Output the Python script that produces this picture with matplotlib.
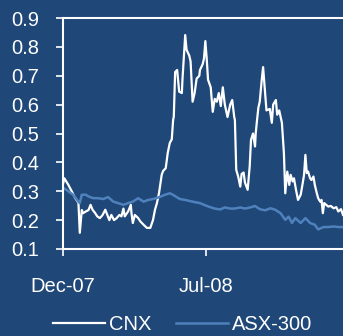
import pandas as pd
import matplotlib.pyplot as plt
import matplotlib.dates as mdates

plt.rcParams['font.family'] = ['Liberation Sans', 'DejaVu Sans']

# days after 1 Dec 2007, and the value read for that day
start = pd.Timestamp('2007-12-01')

cnx_days = [0, 2, 8, 13, 18, 23, 25, 28, 30, 34, 38, 41, 44, 48, 51, 55, 59, 63, 65,
            69, 72, 76, 80, 84, 87, 90, 92, 97, 101, 102, 104, 107, 112, 115, 120,
            125, 130, 134, 137, 140, 143, 147, 149, 153, 156, 159, 162, 163, 164,
            165, 167, 170, 173, 177, 178, 182, 184, 188, 190, 193, 196, 199, 203,
            204, 208, 210, 212, 214, 216, 220, 223, 226, 229, 232, 235, 238, 241,
            245, 249, 252, 255, 256, 258, 261, 264, 266, 269, 271, 275, 278, 280,
            283, 286, 287, 289, 291, 293, 296, 298, 301, 303, 308, 311, 313, 317,
            319, 322, 326, 327, 329, 331, 334, 337, 339, 342, 344, 347, 350, 354,
            357, 359, 361, 363, 365, 368, 370, 373, 375, 378, 380, 383, 385, 387,
            389, 392, 395, 399, 403, 407, 410, 414, 417]
cnx_vals = [0.325, 0.345, 0.322, 0.30, 0.277, 0.26, 0.156, 0.235, 0.224, 0.23, 0.235,
            0.253, 0.236, 0.224, 0.213, 0.207, 0.218, 0.236, 0.224, 0.20, 0.218, 0.20,
            0.207, 0.218, 0.213, 0.24, 0.213, 0.23, 0.253, 0.224, 0.19, 0.218, 0.207,
            0.196, 0.184, 0.173, 0.173, 0.20, 0.236, 0.26, 0.294, 0.357, 0.37, 0.38,
            0.433, 0.467, 0.48, 0.512, 0.547, 0.558, 0.713, 0.72, 0.645, 0.64, 0.69,
            0.841, 0.79, 0.77, 0.75, 0.61, 0.64, 0.69, 0.70, 0.72, 0.74, 0.76, 0.82,
            0.76, 0.686, 0.66, 0.575, 0.62, 0.61, 0.64, 0.595, 0.66, 0.60, 0.557,
            0.60, 0.616, 0.557, 0.547, 0.374, 0.35, 0.316, 0.36, 0.365, 0.33, 0.305,
            0.385, 0.478, 0.50, 0.455, 0.50, 0.547, 0.59, 0.61, 0.686, 0.73, 0.64,
            0.58, 0.585, 0.537, 0.60, 0.616, 0.565, 0.58, 0.537, 0.50, 0.432, 0.293,
            0.368, 0.322, 0.357, 0.334, 0.345, 0.305, 0.270, 0.288, 0.328, 0.357,
            0.426, 0.363, 0.368, 0.345, 0.339, 0.351, 0.322, 0.293, 0.276, 0.264,
            0.270, 0.224, 0.259, 0.253, 0.247, 0.249, 0.241, 0.245, 0.230, 0.238,
            0.218]

asx_days = [0, 5, 15, 23, 25, 28, 34, 38, 45, 52, 60, 67, 75, 82, 90, 97, 104, 112,
            120, 127, 134, 144, 152, 159, 162, 167, 174, 182, 189, 197, 204, 212,
            219, 226, 234, 241, 249, 256, 264, 271, 279, 286, 293, 301, 309, 316,
            324, 331, 336, 341, 346, 354, 361, 368, 375, 380, 388, 395, 403, 410,
            417]
asx_vals = [0.312, 0.305, 0.288, 0.264, 0.259, 0.288, 0.288, 0.282, 0.276, 0.276,
            0.273, 0.280, 0.264, 0.259, 0.253, 0.259, 0.264, 0.276, 0.264, 0.27,
            0.273, 0.280, 0.288, 0.293, 0.29, 0.283, 0.273, 0.27, 0.266, 0.262,
            0.259, 0.251, 0.245, 0.24, 0.237, 0.244, 0.24, 0.24, 0.244, 0.24, 0.244,
            0.249, 0.238, 0.234, 0.241, 0.236, 0.224, 0.201, 0.212, 0.190, 0.207,
            0.190, 0.207, 0.190, 0.184, 0.168, 0.176, 0.176, 0.178, 0.176, 0.176]

tick_dates = ['2007-12-01', '2008-07-01']

bg = '#1f4778'
fg = 'white'

cnx_x = start + pd.to_timedelta(cnx_days, unit='D')
asx_x = start + pd.to_timedelta(asx_days, unit='D')

fig = plt.figure(figsize=(3.43, 3.36), dpi=100, facecolor=bg)
ax = fig.add_axes([63 / 343, 87 / 336, 280 / 343, 231 / 336])
ax.set_facecolor(bg)

ax.plot(cnx_x, cnx_vals, color='white', lw=1.6, label='CNX')
ax.plot(asx_x, asx_vals, color='#4f81bd', lw=1.8, label='ASX-300')

ax.set_xlim(start, start + pd.Timedelta(days=417))
ax.set_ylim(0.1, 0.9)
ax.set_yticks([0.1, 0.2, 0.3, 0.4, 0.5, 0.6, 0.7, 0.8, 0.9])
ax.set_xticks(pd.to_datetime(tick_dates))
ax.xaxis.set_major_formatter(mdates.DateFormatter('%b-%y'))

for s in ['left', 'bottom', 'top']:
    ax.spines[s].set_color(fg)
    ax.spines[s].set_linewidth(1.5)
ax.spines['right'].set_visible(False)

ax.tick_params(axis='y', colors=fg, labelsize=14.5, length=5, width=1.2, pad=12)
ax.tick_params(axis='x', colors=fg, labelsize=14.5, length=5, width=1.2, pad=15)

fig.legend(loc='center', bbox_to_anchor=(0.532, 0.034), ncol=2, frameon=False,
           fontsize=14.5, labelcolor=fg, handlelength=2.6, handletextpad=0.2,
           columnspacing=1.2, borderpad=0)

fig.savefig('out.png', dpi=100, facecolor=bg)
